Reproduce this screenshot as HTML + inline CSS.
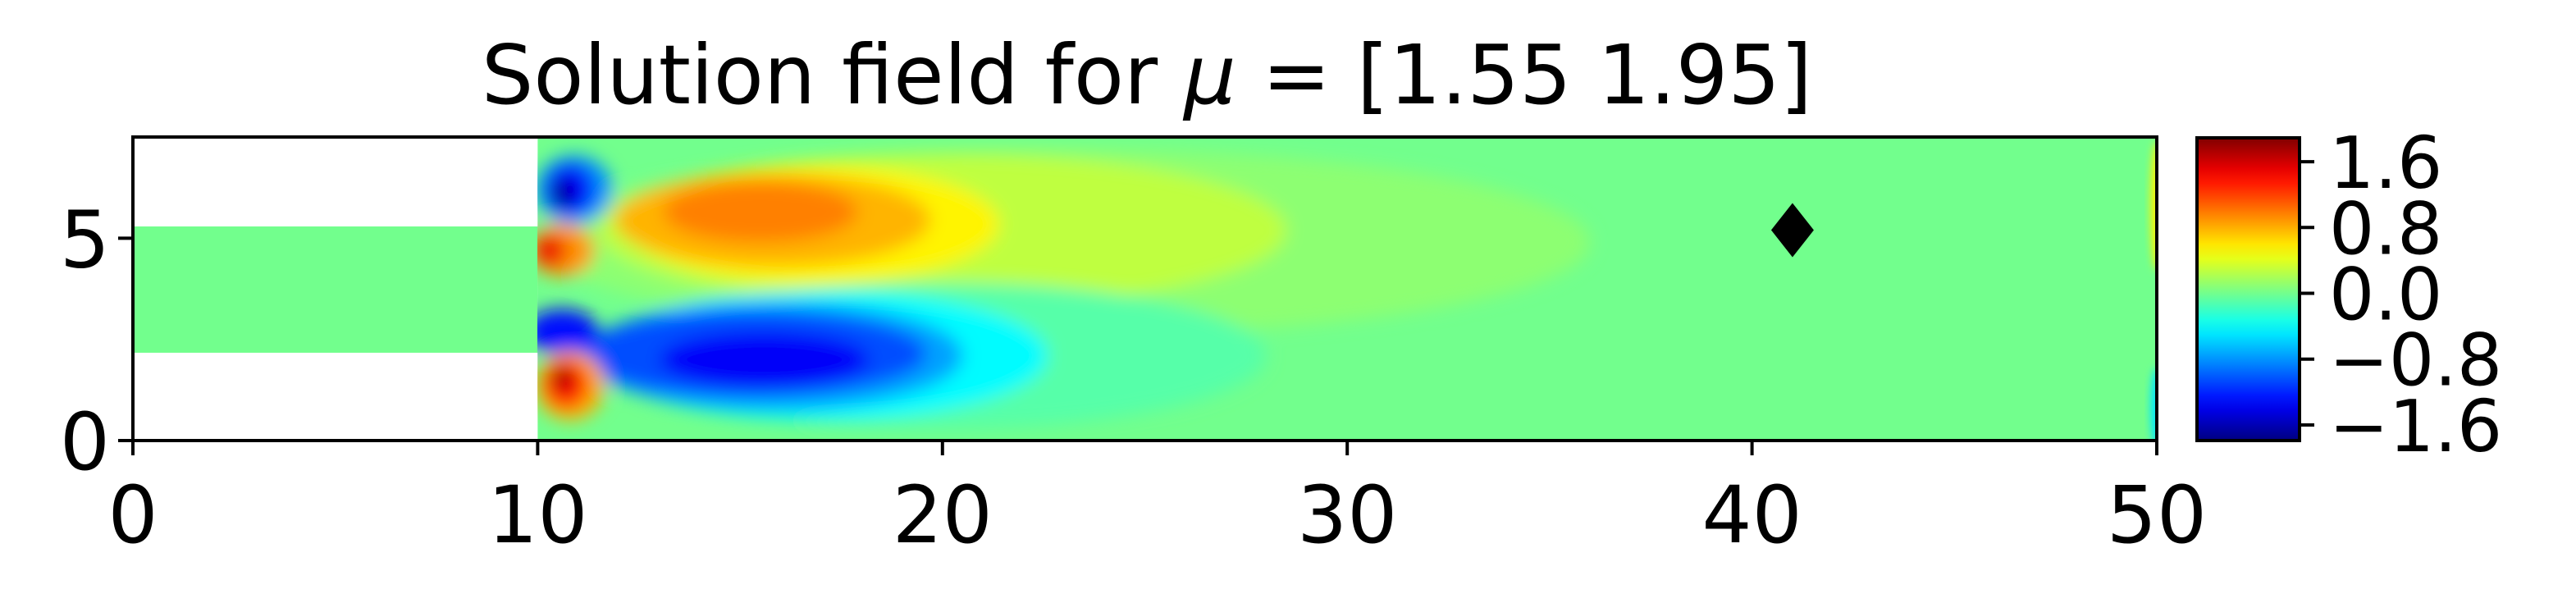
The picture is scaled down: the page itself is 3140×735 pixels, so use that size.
<!DOCTYPE html>
<html><head><meta charset="utf-8"><style>
html,body{margin:0;padding:0;background:#fff;}
svg{display:block;font-family:"DejaVu Sans","Liberation Sans",sans-serif;}
</style></head><body>
<svg id="fig" width="3140" height="735" viewBox="0 0 3140 735">
<defs>
<filter id="blur" x="-50%" y="-50%" width="200%" height="200%"><feGaussianBlur stdDeviation="11"/></filter>
<filter id="blurS" x="-50%" y="-50%" width="200%" height="200%"><feGaussianBlur stdDeviation="5"/></filter>
<clipPath id="domClip"><rect x="655" y="168" width="1974" height="369"/></clipPath>
<linearGradient id="cbGrad" x1="0" y1="1" x2="0" y2="0"></linearGradient>
</defs>
<text x="1398" y="126" text-anchor="middle" font-size="100">Solution field for <tspan font-style="italic">μ</tspan> = [1.55 1.95]</text>
<g id="field"></g>
<g id="axes"></g>
<g id="cbar"></g>
</svg>
<script>
const xTicks=[0,10,20,30,40,50];
const yTicks=[0,5];
const cbTicks=[1.6,0.8,0.0,-0.8,-1.6];
const cbTickLabels=["1.6","0.8","0.0","\u22120.8","\u22121.6"];
const vmin=-1.79, vmax=1.89;
const inlet=[0,10,2.17,5.29];
const domain=[10,50,0,7.5];
// blobs: [x, y, rx, ry, value]
const blobs=[
 [23,4.9,13,2.3,0.1],[20,5.2,8.5,1.9,0.28],[16.8,5.35,4.6,1.45,0.55],[15.8,5.45,3.9,1.15,0.78],[15.5,5.65,2.4,0.75,0.97],
 [20,2.1,8,1.8,-0.1],[17,2.1,5.6,1.6,-0.42],[15.8,2.1,4.7,1.35,-0.75],[15.3,2.15,4.3,1.05,-1.05],[15.6,2.0,2.6,0.7,-1.35],
 [10.6,2.7,0.9,0.55,-1.3],
 [10.9,6.2,0.95,0.85,-0.8],[10.8,6.2,0.6,0.65,-1.35],[10.6,6.1,0.25,0.35,-1.75],
 [10.6,4.7,0.8,0.65,0.9],[10.3,4.7,0.4,0.4,1.5],
 [10.8,1.35,0.85,0.85,0.8],[10.7,1.4,0.55,0.6,1.35],[10.6,1.55,0.22,0.3,1.8]
];
const edgeStrips=[[50,5.8,0.15,1.6,0.55],[50,0.8,0.15,1.0,-0.5]];
const marker=[41,5.2];

const X0=162,X1=2629,Y0=537,Y1=167;
const sx=v=>X0+(v-0)/(50-0)*(X1-X0);
const sy=v=>Y0-(v-0)/(7.5-0)*(Y0-Y1);
const NS="http://www.w3.org/2000/svg";
function mk(t,a,p){const e=document.createElementNS(NS,t);for(const k in a)e.setAttribute(k,a[k]);p.appendChild(e);return e;}
function jet(t){t=Math.max(0,Math.min(1,t));
 const c=x=>Math.max(0,Math.min(1,1.5-Math.abs(4*t-x)));
 const r=c(3),g=c(2),b=c(1);
 return `rgb(${Math.round(r*255)},${Math.round(g*255)},${Math.round(b*255)})`;}
const col=v=>jet((v-vmin)/(vmax-vmin));

const field=document.getElementById('field');
const bg=col(0.0);
let r=mk('rect',{x:sx(inlet[0]),y:sy(inlet[3]),width:sx(inlet[1])-sx(inlet[0]),height:sy(inlet[2])-sy(inlet[3]),fill:bg},field);


const g=mk('g',{'clip-path':'url(#domClip)'},field);
r=mk('rect',{x:sx(domain[0]),y:sy(domain[3]),width:sx(domain[1])-sx(domain[0]),height:sy(domain[2])-sy(domain[3]),fill:bg},g);


const gb=mk('g',{filter:'url(#blur)'},g);
blobs.forEach(b=>{
 const e=mk('ellipse',{cx:sx(b[0]),cy:sy(b[1]),rx:sx(b[2])-sx(0),ry:sy(0)-sy(b[3]),fill:col(b[4])},gb);
 
 
});
const gs=mk('g',{filter:'url(#blurS)'},g);
edgeStrips.forEach(b=>{
 const e=mk('ellipse',{cx:sx(b[0]),cy:sy(b[1]),rx:sx(b[2])-sx(0),ry:sy(0)-sy(b[3]),fill:col(b[4])},gs);
 
 
});
const mx=sx(marker[0]),my=sy(marker[1]);
let d=mk('polygon',{points:`${mx},${my-33} ${mx+26},${my} ${mx},${my+33} ${mx-26},${my}`,fill:'#000'},field);



const ax=document.getElementById('axes');
let f=mk('rect',{x:X0,y:Y1,width:X1-X0,height:Y0-Y1,fill:'none',stroke:'#000','stroke-width':4},ax);


xTicks.forEach(v=>{
 mk('line',{x1:sx(v),x2:sx(v),y1:Y0,y2:Y0+18,stroke:'#000','stroke-width':4},ax);
 const t=mk('text',{x:sx(v),y:Y0+124,'text-anchor':'middle','font-size':96},ax);
 t.textContent=String(v);
 
 
});
yTicks.forEach(v=>{
 mk('line',{x1:X0-18,x2:X0,y1:sy(v),y2:sy(v),stroke:'#000','stroke-width':4},ax);
 const t=mk('text',{x:X0-28,y:sy(v)+35,'text-anchor':'end','font-size':96},ax);
 t.textContent=String(v);
 
 
});

const cb=document.getElementById('cbar');
const grad=document.getElementById('cbGrad');
for(let i=0;i<=20;i++){mk('stop',{offset:(i/20),'stop-color':jet(i/20)},grad);}
const CX0=2678,CX1=2803,CY0=168,CY1=537;
const cy=v=>CY1-(v-vmin)/(vmax-vmin)*(CY1-CY0);
let cr=mk('rect',{x:CX0,y:CY0,width:CX1-CX0,height:CY1-CY0,fill:'url(#cbGrad)',stroke:'#000','stroke-width':4},cb);


cbTicks.forEach((v,i)=>{
 mk('line',{x1:CX1,x2:CX1+18,y1:cy(v),y2:cy(v),stroke:'#000','stroke-width':4},cb);
 const t=mk('text',{x:CX1+36,y:cy(v)+32,'font-size':87},cb);
 t.textContent=cbTickLabels[i];
 
 
});
</script>
</body></html>
